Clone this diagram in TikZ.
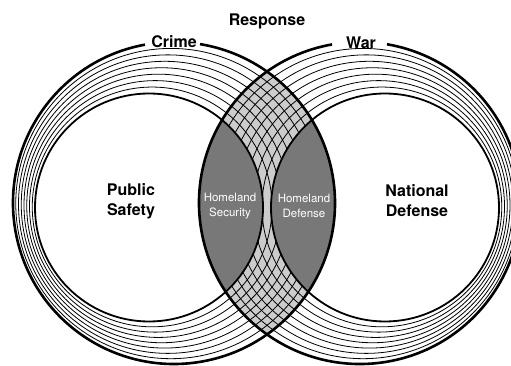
\documentclass[tikz,border=0pt]{standalone}
\usepackage{fontspec}
\setmainfont{TeX Gyre Heros}
\definecolor{lensgray}{gray}{0.8}
\definecolor{darkfill}{gray}{0.47}
\tikzset{
  outerring/.style={line width=2.6pt},
  innerring/.style={line width=1.8pt},
  thinring/.style={line width=0.8pt},
  biglabel/.style={font=\fontsize{16}{20}\selectfont\bfseries, align=center, inner sep=0pt},
  smalllabel/.style={font=\fontsize{11.5}{14.5}\selectfont, text=white, align=center, inner sep=0pt},
}
\begin{document}
\begin{tikzpicture}[x=1pt,y=1pt]
\useasboundingbox (0,0) rectangle (511,366);
\fill[white] (0,0) rectangle (511,366);
\clip (0,0) rectangle (511,366);
\coordinate (LO) at (174,163);
\coordinate (LI) at (149,158.5);
\coordinate (RO) at (360,163);
\coordinate (RI) at (385,158.5);
% lens
\begin{scope}
  \clip (LO) circle[radius=161];
  \fill[lensgray] (RO) circle[radius=161];
\end{scope}
% thin rings
\foreach \k in {1,...,7}{
  \pgfmathsetmacro\cx{174-25*\k/8}
  \pgfmathsetmacro\cy{163-4.5*\k/8}
  \pgfmathsetmacro\rr{161-47*\k/8}
  \pgfmathsetmacro\cxr{534-\cx}
  \draw[thinring] (\cx,\cy) circle[radius=\rr];
  \draw[thinring] (\cxr,\cy) circle[radius=\rr];
}
% dark regions
\begin{scope}
  \clip (LI) circle[radius=114];
  \fill[darkfill] (RO) circle[radius=161];
\end{scope}
\begin{scope}
  \clip (RI) circle[radius=114];
  \fill[darkfill] (LO) circle[radius=161];
\end{scope}
% thick rings
\draw[innerring] (LI) circle[radius=114];
\draw[innerring] (RI) circle[radius=114];
\draw[outerring] (LO) ++(100.4:161) arc[start angle=100.4,end angle=440.7,radius=161];
\draw[outerring] (RO) ++(100:161) arc[start angle=100,end angle=440.35,radius=161];
% labels
\node[biglabel] (response) at (267,345) {Response};
\node[biglabel] (crime) at (174,324) {Crime};
\node[biglabel] (war) at (361,323) {War};
\node[biglabel] (public) at (131,165) {Public\\Safety};
\node[biglabel] (national) at (417,165) {National\\Defense};
\node[smalllabel] (hsec) at (230,160) {Homeland\\Security};
\node[smalllabel] (hdef) at (304,160) {Homeland\\Defense};
\end{tikzpicture}
\end{document}
